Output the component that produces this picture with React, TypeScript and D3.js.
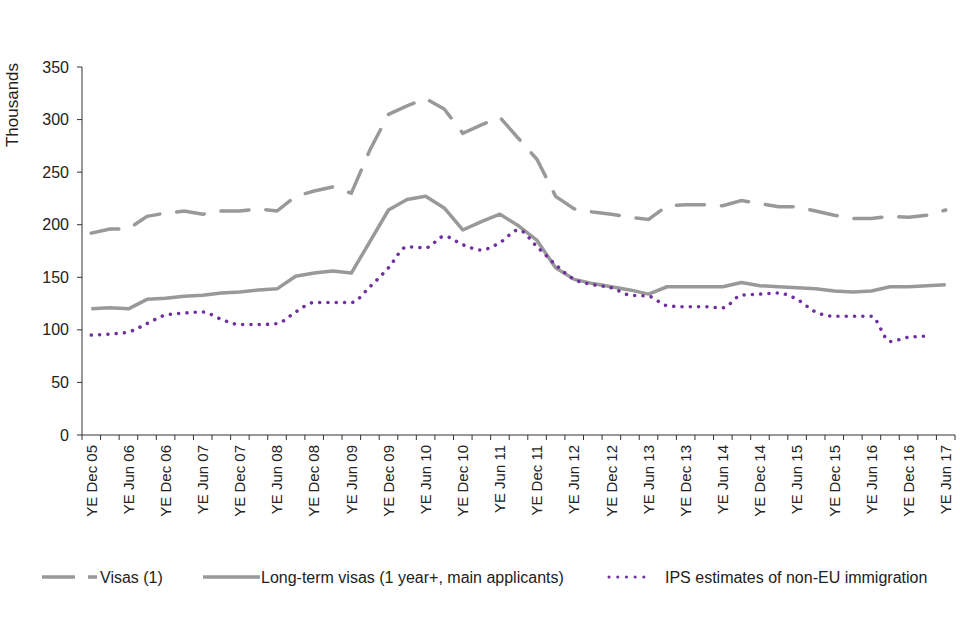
import React from 'react';
import * as d3 from 'd3';

// quarterly year-ending periods
const quarters = [
  'YE Dec 05', 'YE Mar 06', 'YE Jun 06', 'YE Sep 06', 'YE Dec 06', 'YE Mar 07', 'YE Jun 07', 'YE Sep 07',
  'YE Dec 07', 'YE Mar 08', 'YE Jun 08', 'YE Sep 08', 'YE Dec 08', 'YE Mar 09', 'YE Jun 09', 'YE Sep 09',
  'YE Dec 09', 'YE Mar 10', 'YE Jun 10', 'YE Sep 10', 'YE Dec 10', 'YE Mar 11', 'YE Jun 11', 'YE Sep 11',
  'YE Dec 11', 'YE Mar 12', 'YE Jun 12', 'YE Sep 12', 'YE Dec 12', 'YE Mar 13', 'YE Jun 13', 'YE Sep 13',
  'YE Dec 13', 'YE Mar 14', 'YE Jun 14', 'YE Sep 14', 'YE Dec 14', 'YE Mar 15', 'YE Jun 15', 'YE Sep 15',
  'YE Dec 15', 'YE Mar 16', 'YE Jun 16', 'YE Sep 16', 'YE Dec 16', 'YE Mar 17', 'YE Jun 17',
];

const visas = [192, 196, 196, 208, 211, 213, 210, 213, 213, 215, 213, 227, 232, 236, 230, 271, 305, 313, 320, 310,
  287, 295, 302, 282, 262, 227, 215, 212, 210, 207, 205, 218, 219, 219, 218, 223, 220, 217, 217, 213,
  209, 206, 206, 208, 207, 209, 214];

const longTerm = [120, 121, 120, 129, 130, 132, 133, 135, 136, 138, 139, 151, 154, 156, 154, 184, 214, 224, 227, 216,
  195, 203, 210, 199, 185, 159, 148, 144, 141, 138, 134, 141, 141, 141, 141, 145, 142, 141, 140, 139,
  137, 136, 137, 141, 141, 142, 143];

const ips: (number | null)[] = [95, 96, 98, 106, 114, 116, 117, 110, 105, 105, 106, 117, 126, 126, 126, 141, 159, 179, 178, 189,
  181, 176, 183, 195, 179, 162, 148, 143, 140, 133, 132, 123, 122, 122, 121, 133, 134, 135, 129, 117,
  113, 113, 113, 89, 93, 94, null];

const yTicks = [0, 50, 100, 150, 200, 250, 300, 350];

const GREY = '#999999';
const PURPLE = '#7030A0';
const FONT = 'Liberation Sans, Arial, sans-serif';

export default function App() {
  const left = 82, right = 955, top = 67, bottom = 435;

  const x = d3.scaleBand<string>().domain(quarters).range([left, right]).padding(0);
  const y = d3.scaleLinear().domain([0, 350]).range([bottom, top]);
  const cx = (i: number) => (x(quarters[i]) as number) + x.bandwidth() / 2;

  const line = d3.line<number | null>()
    .defined(d => d != null)
    .x((_, i) => cx(i))
    .y(d => y(d as number));

  const smooth = d3.line<number | null>()
    .defined(d => d != null)
    .x((_, i) => cx(i))
    .y(d => y(d as number))
    .curve(d3.curveMonotoneX);

  const boundaries = quarters.map(q => x(q) as number).concat([right]);

  return (
    <svg width={960} height={640}
      style={{ display: 'block', position: 'absolute', left: 0, top: 0, fontFamily: FONT }}>
      {/* y axis */}
      <line x1={left} x2={left} y1={top} y2={bottom} stroke="#333" strokeWidth={1} />
      {yTicks.map(t => (
        <g key={t}>
          <line x1={left - 5} x2={left} y1={y(t)} y2={y(t)} stroke="#333" />
          <text x={69} y={y(t)} dy="0.35em" textAnchor="end" fontSize={16} fill="#222">{t}</text>
        </g>
      ))}
      <text transform={`translate(18,105) rotate(-90)`} textAnchor="middle" fontSize={17} fill="#222">Thousands</text>

      {/* x axis */}
      <line x1={left} x2={right} y1={bottom} y2={bottom} stroke="#333" strokeWidth={1} />
      {boundaries.map((b, i) => (
        <line key={i} x1={b} x2={b} y1={bottom} y2={bottom + 5} stroke="#333" />
      ))}
      {quarters.map((q, i) => (i % 2 === 0 ? (
        <text key={q} transform={`translate(${cx(i)},${bottom + 10}) rotate(-90)`} textAnchor="end" dy="0.35em"
          fontSize={15} fill="#222">{q}</text>
      ) : null))}

      {/* series */}
      <path d={line(visas) || ''} fill="none" stroke={GREY} strokeWidth={3.5} strokeDasharray="28 17" strokeLinecap="round" />
      <path d={line(longTerm) || ''} fill="none" stroke={GREY} strokeWidth={3.5} strokeLinejoin="round" />
      <path d={smooth(ips) || ''} fill="none" stroke={PURPLE} strokeWidth={3.5} strokeDasharray="0.1 8.2" strokeLinecap="round" />

      {/* legend */}
      <g fontSize={16} fill="#222">
        <line x1={42} x2={97} y1={577} y2={577} stroke={GREY} strokeWidth={3.5} strokeDasharray="33 13" />
        <text x={100} y={577} dy="0.35em">Visas (1)</text>
        <line x1={203} x2={260} y1={577} y2={577} stroke={GREY} strokeWidth={3.5} />
        <text x={261} y={577} dy="0.35em">Long-term visas (1 year+, main applicants)</text>
        <line x1={609} x2={652} y1={577} y2={577} stroke={PURPLE} strokeWidth={3} strokeDasharray="0.1 8.6" strokeLinecap="round" />
        <text x={665} y={577} dy="0.35em">IPS estimates of non-EU immigration</text>
      </g>
    </svg>
  );
}
